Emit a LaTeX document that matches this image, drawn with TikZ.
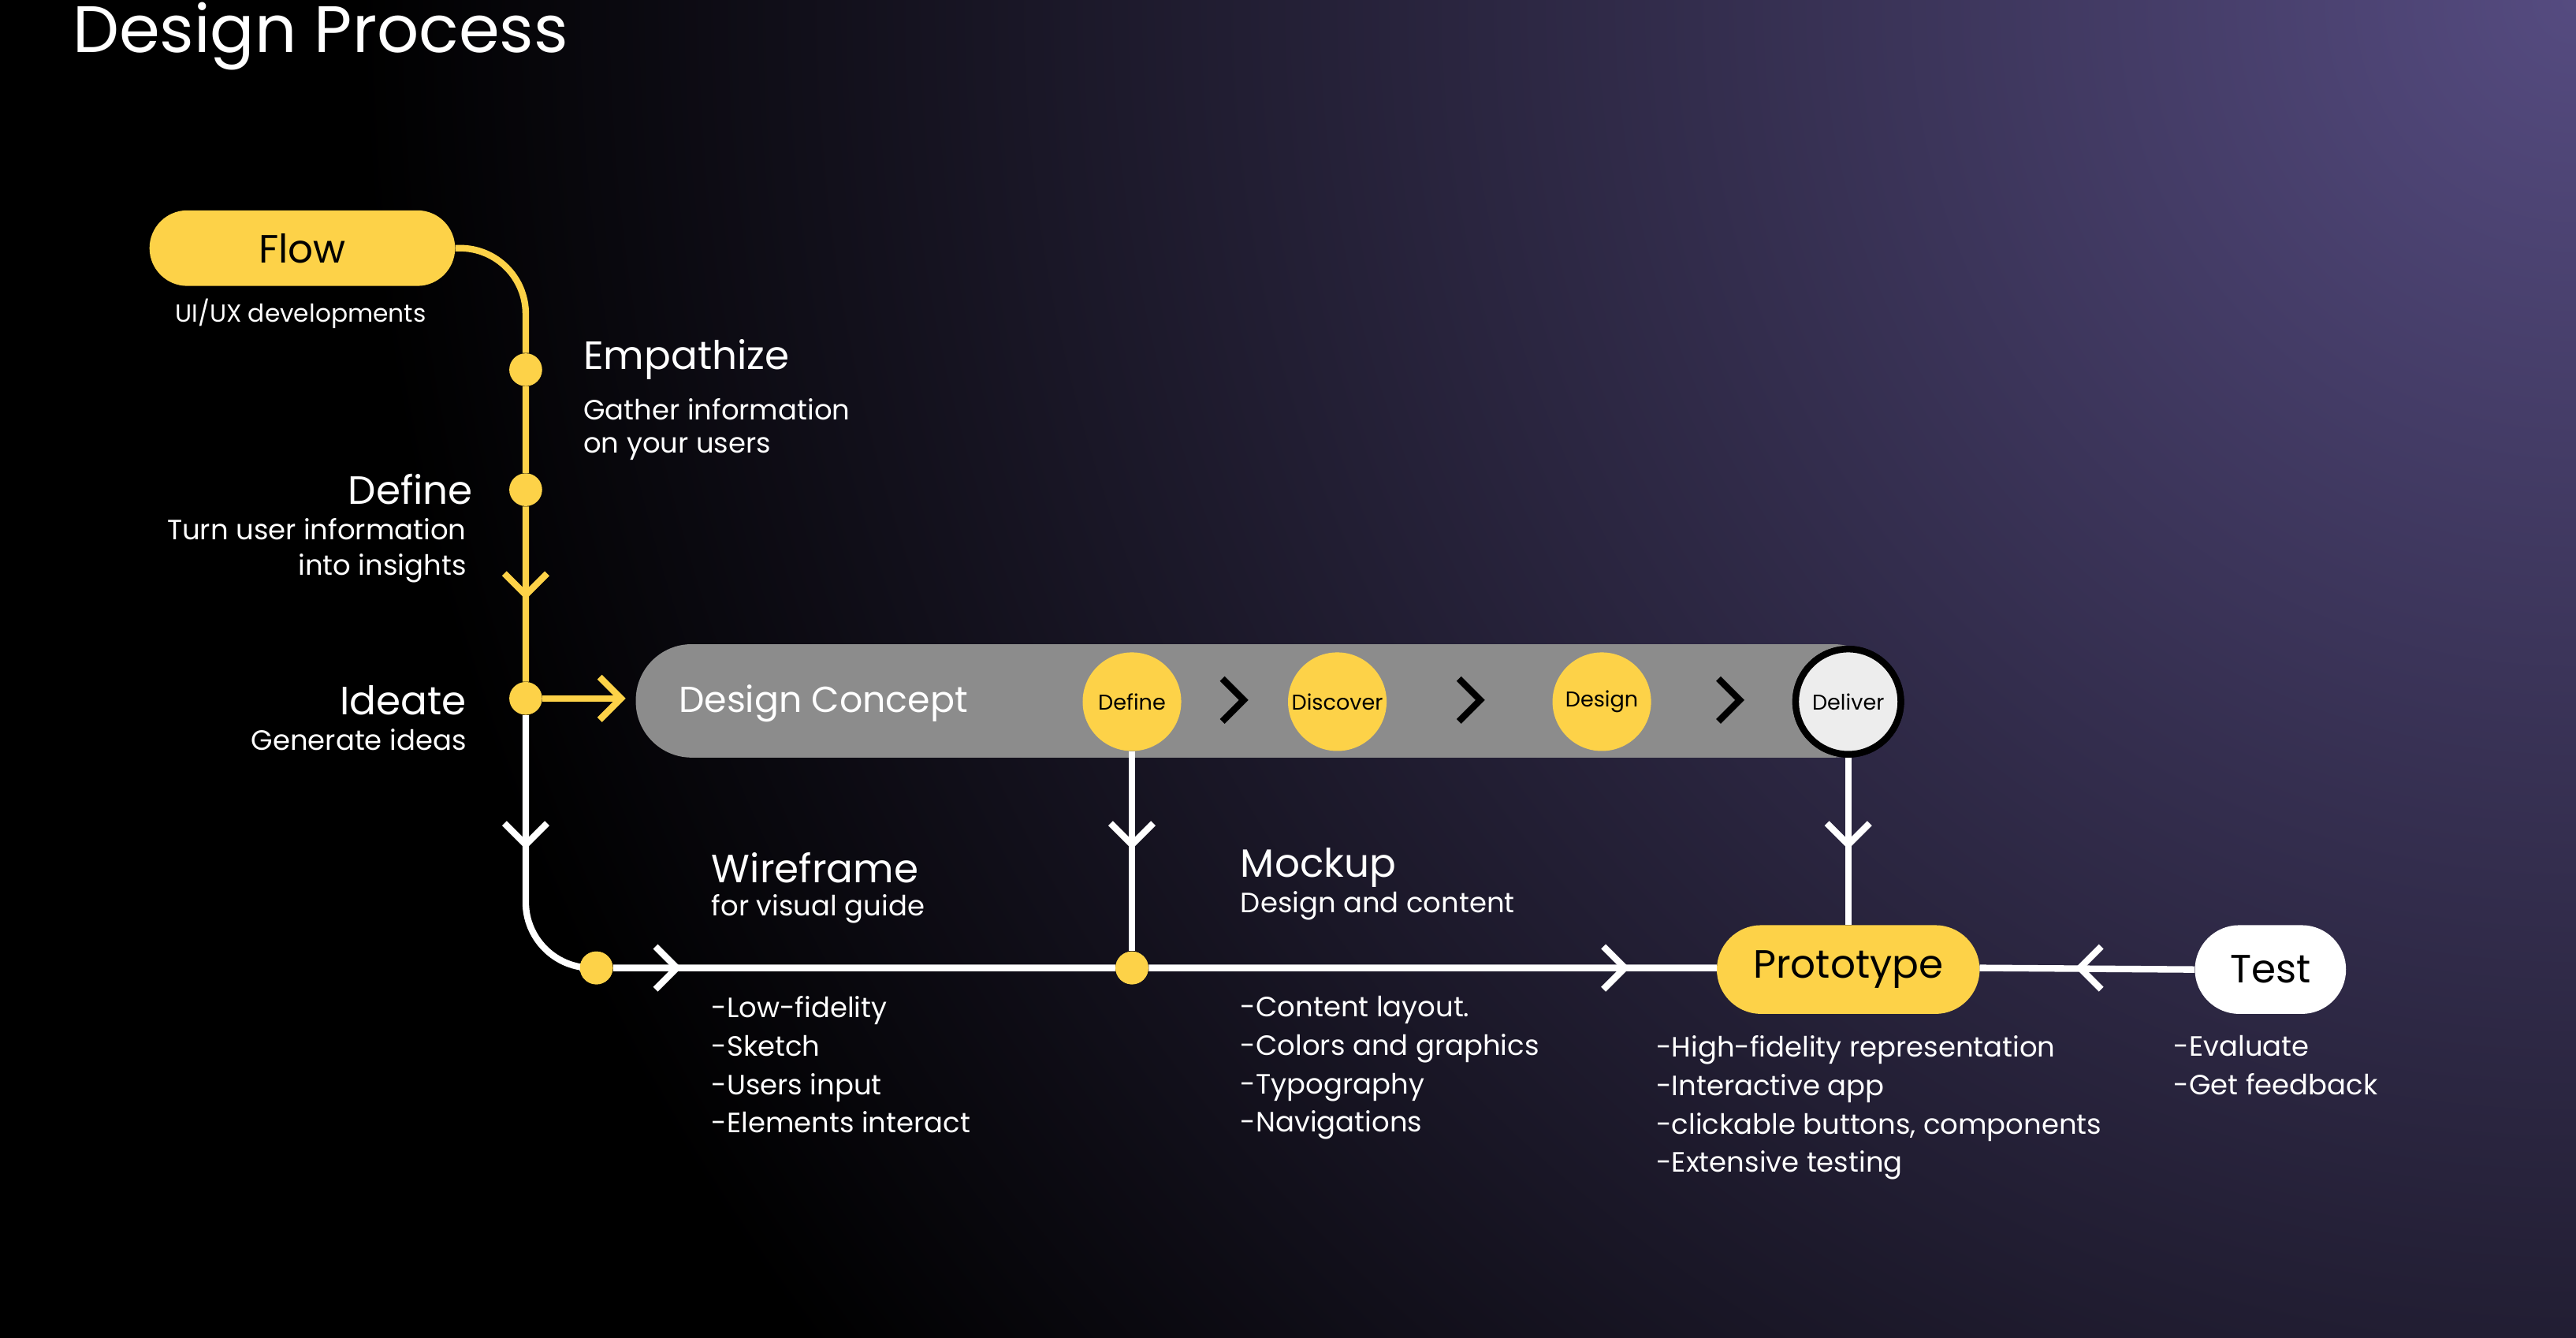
\documentclass[tikz,border=0pt]{standalone}
\usepackage{fontspec}
\setmainfont{Poppins}
\usetikzlibrary{positioning}
\definecolor{sun}{HTML}{FDD248}
\definecolor{bar}{HTML}{8C8C8C}
\definecolor{dusk}{HTML}{554B80}
\definecolor{night}{HTML}{16151C}
\tikzset{
  txt/.style={text=white,inner sep=0pt,font=\fontsize{17}{20}\selectfont},
  head/.style={text=white,inner sep=0pt,font=\fontsize{24}{28}\selectfont},
  pill/.style={rounded corners=23pt,minimum height=46pt,inner sep=0pt,font=\fontsize{24}{28}\selectfont},
  dot/.style={circle,fill=sun,minimum size=20pt,inner sep=0pt},
  ball/.style={circle,fill=sun,minimum size=60pt,inner sep=0pt,font=\fontsize{13}{15}\selectfont},
  yl/.style={draw=sun,line width=4pt},
  wl/.style={draw=white,line width=4pt},
  chev/.pic={\draw[line width=4pt,#1] (-9,-13)--(4,0)--(-9,13);}
}
\begin{document}
\begin{tikzpicture}[x=1pt,y=-1pt]
\useasboundingbox (0,0) rectangle (1568,814);
\clip (0,0) rectangle (1568,814);
\fill[black] (0,0) rectangle (1568,814);
\shade[inner color=dusk,outer color=black] (1568,0) circle[radius=1350];
% title
\node[text=white,anchor=base west,inner sep=0pt,font=\fontsize{40}{48}\selectfont] (title) at (44,32) {Design Process};
% flow part
\node[pill,fill=sun,minimum width=186pt] (flow) at (184,151) {Flow};
\node[txt,font=\fontsize{15}{18}\selectfont] (flowsub) at (183,191) {UI/UX developments};
\node[dot] (emp) at (320,225) {};
\node[dot] (def) at (320,298) {};
\node[dot] (ide) at (320,425) {};
\draw[yl] (flow.east) -- (280,151) arc[start angle=-90,end angle=0,radius=40] -- (emp) -- (def) -- (ide);
\pic at (320,358) {chev={sun,rotate=-90}};
\node[head,anchor=west] (emph) at (355,219) {Empathize};
\node[txt,anchor=west] at (355,249) {Gather information};
\node[txt,anchor=west] at (355,273) {on your users};
\node[head,anchor=east] (defh) at (288,298) {Define};
\node[txt,anchor=east] at (284,322) {Turn user information};
\node[txt,anchor=east] at (284,346) {into insights};
\node[head,anchor=east] (ideh) at (284,426) {Ideate};
\node[txt,anchor=east] at (284,450) {Generate ideas};
% design concept bar
\fill[bar,rounded corners=34pt] (387,392) rectangle (1150,461);
\coordinate (barin) at (378,425);
\draw[yl] (ide) -- (barin);
\pic at (374,425) {chev={sun}};
\node[txt,anchor=west,font=\fontsize{22}{26}\selectfont] (dc) at (413,428) {Design Concept};
\node[ball] (b1) at (689,427) {Define};
\node[ball] (b2) at (814,427) {Discover};
\node[ball] (b3) at (975,427) {Design};
\foreach \x in {753,897,1055} \pic at (\x,426) {chev={black}};
% bottom line
\node[dot] (wf) at (363,589) {};
\node[dot] (mk) at (689,589) {};
\node[pill,fill=sun,minimum width=160pt,minimum height=54pt,rounded corners=27pt] (proto) at (1125,590) {Prototype};
\node[pill,fill=white,minimum width=92pt,minimum height=54pt,rounded corners=27pt] (test) at (1382,590) {Test};
\node[ball,fill=black!7,draw=black,line width=4pt,minimum size=64pt] (b4) at (1125,427) {Deliver};
\draw[wl] (ide) -- (320,549) arc[start angle=180,end angle=90,radius=40] -- (wf) -- (mk) -- (1045,589);
\draw[wl] (b1) -- (mk);
\draw[wl] (b4) -- (proto);
\draw[wl] (test.west) -- (1205,589);
\pic at (320,510) {chev={white,rotate=-90}};
\pic at (689,510) {chev={white,rotate=-90}};
\pic at (1125,510) {chev={white,rotate=-90}};
\pic at (408,589) {chev={white}};
\pic at (985,589) {chev={white}};
\pic at (1270,589) {chev={white,rotate=180}};
\node[dot] at (363,589) {};
\node[dot] at (689,589) {};
\node[ball,fill=black!7,draw=black,line width=4pt,minimum size=64pt] at (1125,427) {Deliver};
% texts
\node[head,anchor=west] (wfh) at (433,528) {Wireframe};
\node[txt,anchor=west] at (433,553) {for visual guide};
\node[head,anchor=west] (mkh) at (755,528) {Mockup};
\node[txt,anchor=west] at (755,551) {Design and content};
\node[txt,anchor=north west,align=left,font=\fontsize{17}{23.4}\selectfont] at (433,606) {-Low-fidelity\\-Sketch\\-Users input\\-Elements interact};
\node[txt,anchor=north west,align=left,font=\fontsize{17}{23.4}\selectfont] at (755,606) {-Content layout.\\-Colors and graphics\\-Typography\\-Navigations};
\node[txt,anchor=north west,align=left,font=\fontsize{17}{23.4}\selectfont] at (1008,630) {-High-fidelity representation\\-Interactive app\\-clickable buttons, components\\-Extensive testing};
\node[txt,anchor=north west,align=left,font=\fontsize{17}{23.4}\selectfont] at (1323,630) {-Evaluate\\-Get feedback};
\end{tikzpicture}
\end{document}
